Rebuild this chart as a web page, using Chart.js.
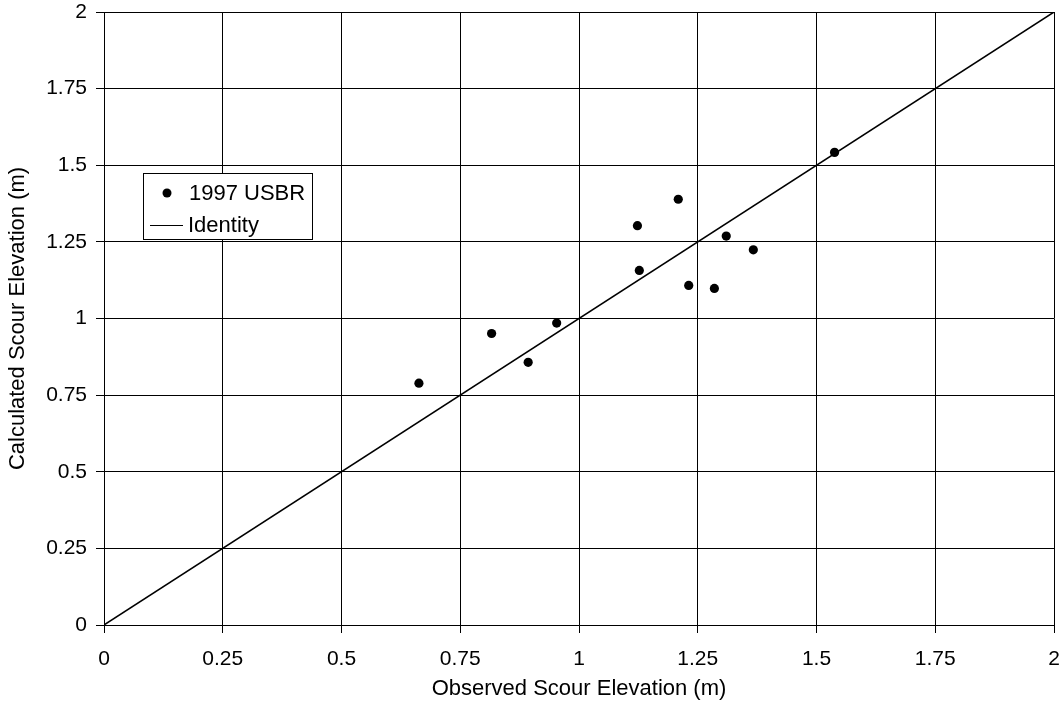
<!DOCTYPE html>
<html>
  <head>
    <title>Scour Elevation</title>
    <script src="https://cdn.jsdelivr.net/npm/chart.js"></script>
    <style>
      html, body { margin: 0; padding: 0; background: #fff; }
      .chart-box { width: 1064px; height: 706px; position: relative; }
    </style>
  </head>
  <body>
    <div class="chart-box">
      <canvas id="scourChart"></canvas>
    </div>
    <script>
      // observed vs calculated scour elevation (m)
      var observed = [0.663, 0.816, 0.893, 0.953, 1.123, 1.127, 1.209, 1.231, 1.285, 1.310, 1.367, 1.538];
      var calculated = [0.789, 0.951, 0.857, 0.985, 1.303, 1.157, 1.389, 1.108, 1.098, 1.269, 1.224, 1.542];
      var identityX = [0, 2];
      var identityY = [0, 2];
      var axisMin = 0, axisMax = 2, axisStep = 0.25;

      var FONT = "'Liberation Sans', Arial, Helvetica, sans-serif";
      Chart.defaults.font.family = FONT;
      Chart.defaults.font.size = 21;
      Chart.defaults.color = '#000';

      // tick text like the original: 0, 0.25, 0.5, 1 ...
      function tickText(value) {
        return String(Number(value.toFixed(2)));
      }

      // legend box drawn inside the plot area, like the original
      var boxLegend = {
        id: 'boxLegend',
        afterDraw: function(chart) {
          var ctx = chart.ctx;
          var area = chart.chartArea;
          var x = area.left + 39, y = area.top + 161, w = 169, h = 66;
          var sets = chart.data.datasets;
          ctx.save();
          ctx.fillStyle = '#fff';
          ctx.fillRect(x, y, w, h);
          ctx.strokeStyle = '#000';
          ctx.lineWidth = 1;
          ctx.strokeRect(x + 0.5, y + 0.5, w, h);
          ctx.font = '22px ' + FONT;
          ctx.textBaseline = 'middle';
          ctx.fillStyle = '#000';
          // scatter entry
          ctx.beginPath();
          ctx.arc(x + 24, y + 20, 4.5, 0, Math.PI * 2);
          ctx.fill();
          ctx.fillText(sets[0].label, x + 46, y + 21);
          // line entry
          ctx.beginPath();
          ctx.moveTo(x + 7, y + 52.5);
          ctx.lineTo(x + 40, y + 52.5);
          ctx.lineWidth = 1.2;
          ctx.stroke();
          ctx.fillText(sets[1].label, x + 45, y + 53);
          ctx.restore();
        }
      };

      var scatterPoints = observed.map(function(v, i) { return { x: v, y: calculated[i] }; });
      var identityPoints = identityX.map(function(v, i) { return { x: v, y: identityY[i] }; });

      new Chart(document.getElementById('scourChart'), {
        type: 'scatter',
        data: {
          datasets: [{
            label: '1997 USBR',
            data: scatterPoints,
            backgroundColor: '#000',
            borderColor: '#000',
            pointRadius: 4.6,
            pointBorderWidth: 0
          }, {
            type: 'line',
            label: 'Identity',
            data: identityPoints,
            borderColor: '#000',
            borderWidth: 1.5,
            pointRadius: 0,
            fill: false,
            tension: 0
          }]
        },
        options: {
          responsive: true,
          maintainAspectRatio: false,
          animation: false,
          layout: { padding: { top: 12, right: 10, left: 0, bottom: 0 } },
          plugins: {
            legend: { display: false },
            tooltip: { enabled: false }
          },
          scales: {
            x: {
              type: 'linear',
              min: axisMin,
              max: axisMax,
              ticks: { stepSize: axisStep, padding: 14, color: '#000', callback: tickText },
              grid: { color: '#000', lineWidth: 1, tickLength: 8 },
              border: { color: '#000' },
              title: { display: true, text: 'Observed Scour Elevation (m)', font: { size: 22 }, padding: { top: 0, bottom: 4 }, color: '#000' },
              afterFit: function(scale) {
                scale.height = 81;
                scale.paddingLeft = 0;
                scale.paddingRight = 0;
              }
            },
            y: {
              type: 'linear',
              min: axisMin,
              max: axisMax,
              ticks: { stepSize: axisStep, padding: 9, color: '#000', callback: tickText },
              grid: { color: '#000', lineWidth: 1, tickLength: 8 },
              border: { color: '#000' },
              title: { display: true, text: 'Calculated Scour Elevation (m)', font: { size: 22 }, padding: { top: 5, bottom: 0 }, color: '#000' },
              afterFit: function(scale) {
                scale.width = 104;
                scale.paddingTop = 0;
                scale.paddingBottom = 0;
              }
            }
          }
        },
        plugins: [boxLegend]
      });
    </script>
  </body>
</html>
